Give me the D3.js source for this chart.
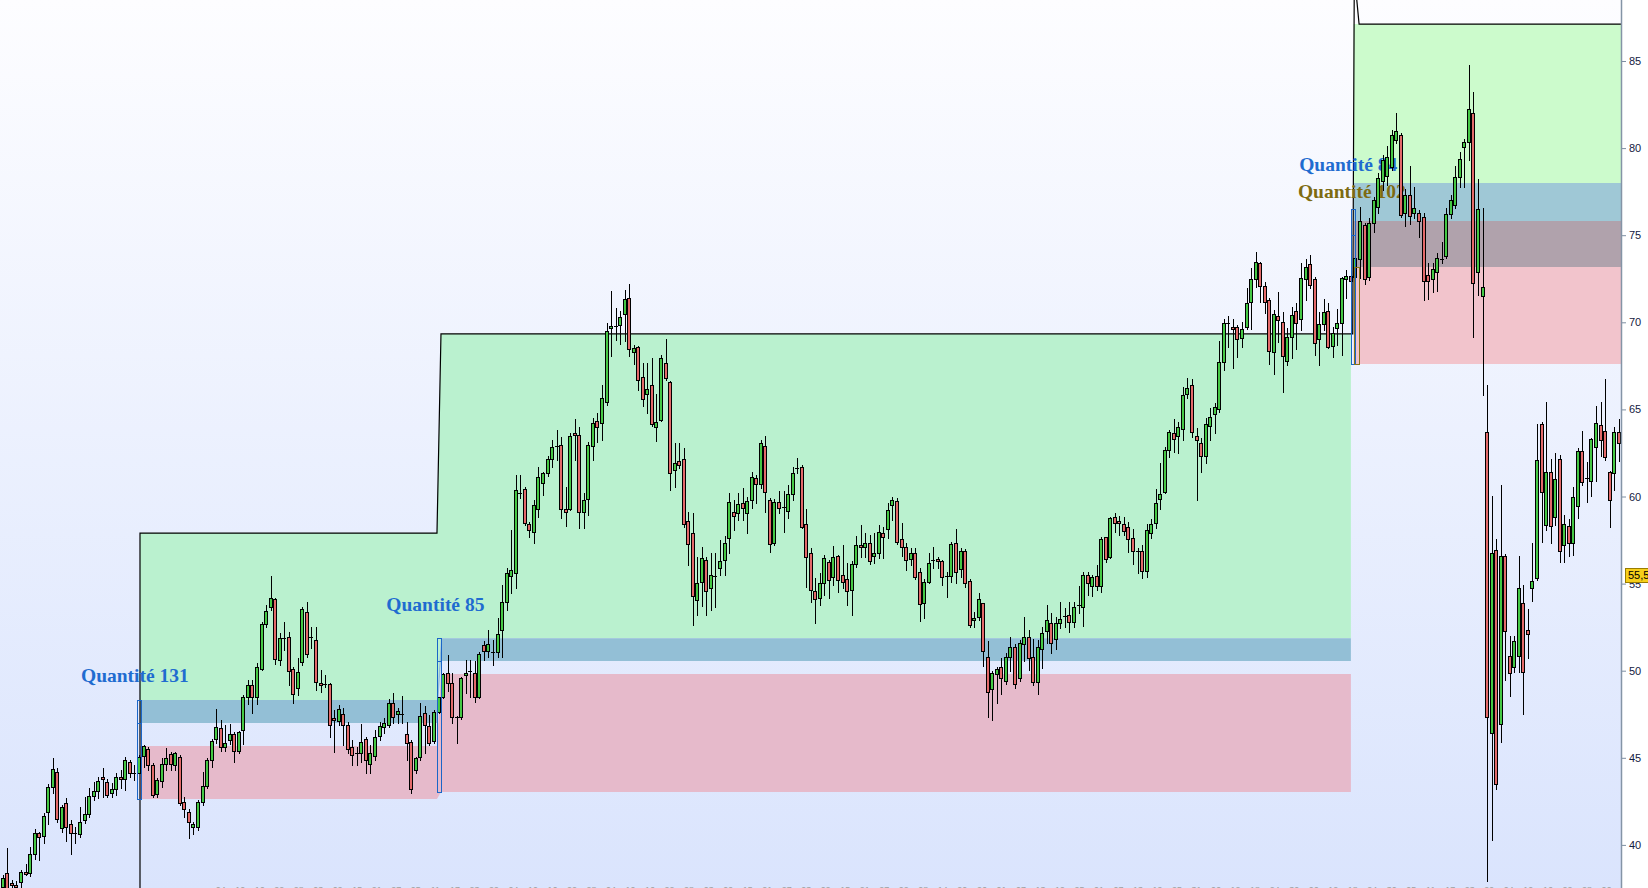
<!DOCTYPE html>
<html><head><meta charset="utf-8">
<script src="https://cdn.jsdelivr.net/npm/d3@7"></script>
<style>html,body{margin:0;padding:0;background:#fff;overflow:hidden}</style>
</head><body><svg id="chart" width="1648" height="888"></svg>
<script>
// ---------------- DATA ----------------
const opens = [
37.6,38.4,37.8,37.7,37.85,38.45,38.37,39.5,40.7,40.5,
41.9,43.3,44.16,40.95,42.4,41.18,40.68,40.6,41.43,41.8,
42.82,43.07,43.87,43.63,43.0,43.2,43.87,43.78,44.77,44.1,
44.1,45.1,45.5,44.56,42.9,43.65,44.64,45.2,44.58,45.06,
42.44,41.9,41.05,41.0,42.44,43.4,44.87,46.06,46.73,45.63,
46.0,46.34,45.4,46.6,48.47,49.2,48.47,50.07,52.66,53.63,
54.1,50.61,51.88,51.95,50.07,48.98,50.52,53.39,51.9,51.76,
49.3,49.24,49.22,47.27,47.13,47.51,46.88,45.6,45.25,45.25,
46.06,44.64,45.1,46.25,46.79,46.88,48.17,47.5,47.5,46.36,
45.89,44.3,45.07,47.55,46.82,45.98,47.65,48.47,49.85,49.31,
47.32,47.32,49.75,50.0,49.85,48.47,51.48,51.15,51.04,51.09,
52.34,53.96,55.44,55.6,60.18,60.41,58.4,57.98,59.26,60.79,
61.37,62.14,62.86,62.96,59.26,59.26,63.63,63.53,59.13,59.83,
62.9,64.35,64.2,65.4,69.7,69.75,69.84,70.47,71.37,68.31,
68.6,66.84,65.87,66.38,64.0,64.39,67.68,66.55,61.52,62.05,
62.13,58.61,57.88,54.06,55.11,56.35,54.73,55.4,55.87,56.35,
57.6,59.13,59.03,59.61,59.03,59.8,61.04,60.7,62.9,59.8,
57.31,59.7,59.38,59.17,60.14,61.62,61.71,58.4,56.73,54.59,
54.15,55.01,56.26,55.4,56.58,55.49,55.24,54.63,56.1,57.2,
57.08,57.31,56.58,56.77,57.88,58.11,59.51,59.74,57.54,57.08,
56.39,56.74,55.65,53.9,55.11,56.35,56.39,56.28,55.44,55.45,
57.35,55.82,56.89,55.15,52.91,53.06,53.87,50.77,48.93,49.79,
50.23,49.43,50.77,51.34,49.56,51.53,51.95,50.8,49.37,51.23,
52.3,52.72,51.8,52.72,53.14,53.2,52.81,53.73,53.63,55.47,
54.88,55.44,54.88,57.65,56.51,58.8,58.61,58.4,58.23,57.6,
56.83,56.9,55.7,57.9,58.46,59.84,60.28,62.67,63.63,63.47,
63.86,65.87,66.38,63.49,63.05,62.35,64.02,64.72,65.0,67.74,
69.94,69.75,69.71,69.08,69.75,71.19,72.47,73.39,72.08,71.28,
68.32,70.36,70.02,67.8,69.14,70.65,70.17,72.47,73.33,72.47,
69.02,69.88,70.67,68.66,69.66,69.98,72.47,72.68,72.62,73.61,
75.57,72.58,75.72,76.6,78.1,78.4,78.93,80.46,80.75,76.27,
77.33,76.27,76.27,76.06,72.69,72.48,72.87,73.6,73.78,76.21,
76.72,78.33,80.06,80.36,82.03,72.87,71.5,63.69,46.41,56.93,
46.92,56.57,50.87,50.2,50.87,53.9,52.32,54.75,55.35,64.14,
58.38,61.42,58.84,62.17,57.23,58.32,57.32,59.45,62.63,61.02,
60.9,62.87,64.08,63.75,61.42,61.36,63.69];
const highs = [
38.3,39.8,38.0,37.9,38.55,38.9,39.9,40.9,40.75,41.85,
43.5,45.0,44.4,42.3,42.7,41.43,41.0,42.2,42.77,43.24,
43.6,43.9,44.4,43.76,43.53,44.1,44.3,45.06,44.87,44.58,
45.16,45.73,45.6,44.68,43.82,44.96,45.58,45.35,45.35,45.16,
42.77,42.04,41.3,42.57,44.16,44.96,46.06,47.8,47.17,46.9,
46.92,46.5,46.56,48.6,49.46,49.46,50.42,52.81,53.77,55.43,
54.15,52.14,52.81,52.24,50.23,50.71,53.67,53.96,52.53,52.53,
50.04,49.75,49.28,47.74,48.03,47.84,47.07,46.02,45.64,46.92,
46.21,45.73,46.6,47.07,47.27,48.36,48.74,47.84,48.55,47.07,
46.02,45.06,48.17,47.97,47.46,47.74,48.47,49.85,50.9,49.85,
47.4,49.66,50.61,50.61,50.57,51.09,51.72,52.34,51.76,53.0,
54.9,55.88,58.08,61.23,61.23,60.56,58.55,59.8,61.71,61.42,
62.33,63.24,63.82,63.43,60.56,63.63,64.43,64.0,60.18,63.15,
64.48,64.77,66.4,69.98,71.81,70.8,70.67,71.85,72.2,68.7,
68.64,67.68,67.64,67.93,65.88,68.12,69.04,66.65,63.09,63.05,
62.76,59.13,59.03,56.54,57.12,56.54,56.73,56.73,57.5,57.73,
60.18,59.8,60.18,60.47,59.99,61.42,61.23,63.24,63.47,59.9,
59.83,60.33,60.33,60.66,61.71,62.19,61.81,59.26,57.02,55.3,
55.59,56.64,56.35,57.16,56.64,57.21,56.16,56.31,57.73,58.36,
57.88,57.79,57.88,58.36,58.23,59.64,59.99,59.9,58.46,57.35,
57.06,57.02,55.88,55.24,56.74,57.12,56.54,56.35,55.68,57.4,
58.11,57.02,56.97,55.24,53.39,54.44,53.9,51.72,50.0,50.23,
50.75,51.0,51.92,51.51,51.76,53.06,52.34,51.8,51.76,52.53,
53.77,53.33,53.1,53.96,53.58,53.96,53.96,54.86,55.68,55.68,
55.49,56.07,57.69,57.69,58.8,59.07,58.88,58.84,58.55,58.11,
57.02,57.2,58.4,58.7,60.41,61.91,62.86,63.82,64.43,64.3,
66.31,66.78,66.73,63.91,63.34,64.48,65.06,65.35,68.93,70.17,
70.36,70.17,69.85,70.04,71.95,73.1,74.06,73.48,72.33,71.38,
70.71,71.76,70.61,69.65,70.9,71.09,73.39,73.62,73.86,72.62,
70.61,71.32,71.09,69.71,70.75,72.62,73.0,73.0,73.8,76.64,
75.72,75.97,77.21,78.55,79.6,80.1,81.04,82.0,80.85,77.63,
79.0,77.78,76.42,76.27,73.39,73.39,73.99,74.6,76.57,77.33,
79.0,79.75,80.5,84.75,83.24,78.24,76.57,66.41,60.05,57.54,
60.66,56.72,52.02,52.02,56.56,54.9,53.53,57.32,64.14,64.29,
65.42,62.17,62.47,62.38,58.93,58.68,60.57,62.78,63.78,61.96,
63.38,65.2,65.42,66.72,61.48,63.99,64.45];
const lows = [
37.4,37.3,37.5,37.4,37.6,38.3,38.2,39.2,39.13,40.1,
41.2,43.0,41.3,40.76,40.2,39.5,40.1,40.47,41.24,41.6,
42.57,42.67,42.77,42.73,42.77,42.86,43.24,43.15,43.91,43.7,
44.1,44.5,44.3,42.77,42.77,43.34,44.3,44.3,44.3,42.3,
41.58,40.41,40.6,40.85,42.3,43.24,44.49,45.83,45.4,45.4,
45.8,44.78,45.25,45.8,48.1,47.55,48.1,50.04,52.52,53.48,
50.38,50.32,51.19,49.18,48.12,48.6,50.33,50.8,51.28,48.89,
48.8,49.08,46.21,45.35,46.88,45.73,45.25,44.59,44.59,44.78,
44.1,44.11,44.87,46.02,46.4,46.79,46.98,46.98,46.98,44.87,
43.0,44.1,44.9,45.26,45.73,45.87,47.55,48.41,48.85,47.02,
45.87,47.21,48.7,48.5,48.22,48.41,50.61,50.8,50.33,50.8,
50.8,53.48,54.44,54.72,59.9,58.37,57.7,57.35,58.84,60.1,
61.18,61.67,62.1,58.75,58.3,59.22,62.1,58.17,58.17,58.94,
62.1,63.15,63.24,65.25,68.06,68.98,68.75,68.9,68.06,67.6,
66.11,65.2,64.77,64.04,63.2,64.35,66.7,60.37,60.56,61.62,
58.27,56.07,52.62,53.2,53.71,53.2,53.48,53.67,55.49,55.49,
56.73,58.08,58.65,58.65,57.88,59.32,59.61,60.47,59.13,56.83,
57.21,59.03,57.98,58.74,59.8,61.33,58.17,54.82,53.96,52.72,
53.77,54.34,54.15,54.92,54.53,54.73,53.77,53.2,55.97,56.52,
56.55,56.12,56.2,56.45,56.45,57.6,58.65,57.25,56.58,55.78,
56.07,55.24,52.85,53.04,55.05,55.87,55.87,54.92,54.25,55.11,
55.05,55.4,54.82,52.49,52.53,52.91,50.27,47.32,47.17,48.12,
48.66,49.24,50.0,48.99,49.43,50.54,50.04,49.18,48.66,50.13,
51.6,51.0,51.23,52.43,52.53,52.24,52.53,53.33,52.57,54.34,
54.3,54.63,54.53,56.26,56.45,57.98,57.79,57.79,56.83,56.12,
55.63,55.3,55.4,57.6,58.17,59.26,60.18,62.25,62.58,62.52,
63.24,65.64,63.43,59.8,61.42,61.91,63.24,63.63,64.87,67.26,
68.6,67.36,68.03,68.56,69.6,69.6,72.05,71.19,70.55,67.61,
67.03,68.89,66.02,67.55,67.93,68.45,69.56,71.28,71.95,68.12,
67.55,69.56,68.55,68.03,68.7,68.12,71.38,72.14,72.43,72.52,
72.2,72.43,75.2,76.25,77.6,77.9,78.74,80.27,76.06,75.51,
75.66,75.96,74.9,71.3,71.35,71.72,71.78,73.39,73.69,75.96,
76.57,77.78,77.78,79.3,69.14,71.57,65.82,37.9,40.26,43.23,
45.89,49.44,48.53,49.9,49.9,47.53,50.75,53.99,55.2,57.41,
58.08,57.32,58.38,56.26,56.26,56.56,56.66,58.75,60.66,59.66,
60.05,60.87,62.32,62.11,58.23,60.35,62.02];
const closes = [
38.1,37.4,37.7,37.6,38.45,38.35,39.47,40.66,40.47,41.66,
43.3,44.33,41.46,42.2,41.0,40.66,40.7,41.33,41.8,42.8,
43.07,43.67,43.76,42.86,43.2,43.9,43.76,44.85,44.1,44.12,
45.02,45.7,44.6,42.86,43.72,44.62,44.97,44.64,45.25,42.38,
42.04,41.33,41.2,42.44,43.4,44.87,45.94,46.75,45.6,45.83,
46.34,45.4,46.46,48.47,49.2,48.5,50.19,52.66,53.42,54.2,
50.7,51.9,51.9,49.98,48.66,49.94,53.52,50.94,51.92,49.37,
49.18,49.26,46.88,47.17,47.78,46.88,45.48,45.16,45.2,45.92,
44.87,45.25,46.21,46.84,46.98,48.17,47.36,47.7,47.52,45.83,
43.2,44.97,47.4,46.88,45.87,47.65,48.47,49.81,49.31,47.36,
47.34,49.56,49.89,49.9,48.5,50.94,51.15,51.51,51.06,52.1,
53.96,55.63,55.78,60.37,60.2,58.5,58.08,59.51,61.1,61.33,
62.14,62.86,62.88,59.26,59.09,63.47,63.53,59.09,59.8,62.95,
64.2,63.97,65.63,69.5,69.78,69.77,70.28,71.32,68.45,68.5,
66.69,65.58,66.15,64.14,64.3,67.93,66.78,61.33,61.9,61.81,
58.4,57.25,54.29,55.01,56.45,54.59,55.49,55.42,56.29,57.35,
59.7,58.9,59.55,59.32,59.74,61.14,60.7,63.05,60.24,57.27,
59.7,59.32,59.4,60.14,61.33,61.64,58.23,56.51,54.63,54.1,
55.05,56.45,55.2,56.54,55.2,55.11,54.59,56.1,57.2,57.1,
57.31,56.31,56.74,57.94,57.69,59.22,59.8,57.4,57.08,56.35,
56.74,55.4,53.81,55.07,56.16,56.37,56.28,55.4,55.46,57.27,
55.68,56.89,55.05,52.62,53.0,54.1,51.13,48.8,49.85,50.1,
49.6,50.77,51.34,49.22,51.6,51.95,50.71,49.37,51.34,52.14,
52.91,51.57,52.72,52.95,53.16,52.81,53.63,53.75,55.49,55.01,
55.36,54.88,57.56,56.39,58.74,58.46,58.46,58.02,57.54,56.87,
56.85,55.7,58.1,58.42,59.61,60.13,62.67,63.69,63.28,63.97,
65.83,66.21,63.68,63.24,62.33,64.14,64.55,65.12,67.7,69.94,
69.96,69.6,69.02,69.6,71.09,72.47,73.44,72.1,71.19,68.37,
70.46,70.13,68.07,69.14,70.42,69.94,72.53,73.16,72.14,68.83,
69.88,70.57,68.6,69.41,69.94,72.53,72.68,72.37,73.67,75.81,
72.47,75.72,77.02,78.27,79.3,79.5,80.75,80.98,76.16,77.33,
76.12,76.57,75.81,72.39,72.39,73.08,73.69,73.62,76.21,77.02,
78.33,79.36,80.36,82.27,72.27,76.48,72.0,47.32,56.77,43.47,
56.57,52.26,49.84,51.71,54.75,49.9,52.08,55.14,62.1,60.26,
61.42,58.32,61.02,56.87,58.44,57.32,59.96,62.63,60.81,61.04,
63.29,64.2,63.23,62.26,59.8,63.69,63.08];

// position zones (candle-index space) and price levels
const zoneStart   = [30.22, 96.53, 297.6];
const zoneEnd     = [95.65, 297.0, 358];
const zoneCap     = [57.9, 69.33, 87.12];
const blueTop     = [48.32, 51.87, 78.0];
const blueBottom  = [47.0, 50.56, 73.18];
const pinkTop     = [45.68, 49.81, 75.82];
const pinkBottom  = [42.64, 43.04, 67.6];
const spikeIdx = 297.75, spikeLevel = 90.0;

// entry markers
const boxIdx    = [30.0, 96.2, 297.4, 298.2];
const boxTop    = [48.32, 51.87, 76.5, 73.18];
const boxBottom = [42.64, 43.04, 67.6, 67.6];
const boxMid    = [47.0, 50.56, 75.0, null];
const boxColor  = ["#1a66c8", "#1a66c8", "#1a66c8", "#8a7418"];

// text labels
const labelTexts = ["Quantité 131", "Quantité 85", "Quantité 84", "Quantité 102"];
const labelIdx   = [29.1, 95.3, 296.4, 297.2];
const labelPrice = [49.35, 53.43, 78.69, 77.14];
const labelColor = ["#1f6cd0", "#1f6cd0", "#1f6cd0", "#7d6b12"];

const yTicks = [40, 45, 50, 55, 60, 65, 70, 75, 80, 85];
const lastPriceLabel = "55,5";
const lastPriceValue = 55.5;

// ---------------- CHART ----------------
const W = 1648, H = 888, axisX = 1621;
const N = opens.length;
const svg = d3.select("#chart");
const xS = d3.scaleLinear().domain([0, N - 1]).range([2.83, 1618.7]);
const yS = d3.scaleLinear().domain([40, 85]).range([844.9, 61]);

const defs = svg.append("defs");
const grad = defs.append("linearGradient").attr("id", "bg").attr("x1", 0).attr("y1", 0).attr("x2", 0).attr("y2", 1);
grad.append("stop").attr("offset", "0%").attr("stop-color", "#fdfdff");
grad.append("stop").attr("offset", "100%").attr("stop-color", "#dae4fd");
defs.append("clipPath").attr("id", "plot").append("rect").attr("x", 0).attr("y", 0).attr("width", axisX).attr("height", H);

svg.append("rect").attr("width", W).attr("height", H).attr("fill", "#ffffff");
svg.append("rect").attr("width", axisX).attr("height", H).attr("fill", "url(#bg)");

const plot = svg.append("g").attr("clip-path", "url(#plot)");

const area = d3.area().x(d => xS(d.i)).y0(d => yS(d.lo)).y1(d => yS(d.hi));
function band(sets, hiArr, loArr) {
  const pts = [];
  sets.forEach(s => {
    pts.push({ i: zoneStart[s], hi: hiArr[s], lo: loArr[s] });
    pts.push({ i: zoneEnd[s], hi: hiArr[s], lo: loArr[s] });
  });
  return pts;
}
// sets 1 & 2
plot.append("path").attr("d", area(band([0, 1], zoneCap, blueTop))).attr("fill", "#baf1cf");
plot.append("path").attr("d", area(band([0, 1], blueTop, blueBottom))).attr("fill", "#93bfd6");
plot.append("path").attr("d", area(band([0, 1], pinkTop, pinkBottom))).attr("fill", "#e6bacb");
// set 3
plot.append("path").attr("d", area(band([2], zoneCap, blueTop))).attr("fill", "#ccfbcc");
plot.append("path").attr("d", area(band([2], blueTop, pinkTop))).attr("fill", "#9fc8d6");
plot.append("path").attr("d", area(band([2], pinkTop, blueBottom))).attr("fill", "#b0a2ac");
plot.append("path").attr("d", area(band([2], blueBottom, pinkBottom))).attr("fill", "#f2c4cc");

// stop line
const linePts = [
  { i: zoneStart[0], v: 30 },
  { i: zoneStart[0], v: zoneCap[0] },
  { i: zoneEnd[0], v: zoneCap[0] },
  { i: zoneStart[1], v: zoneCap[1] },
  { i: zoneEnd[1] + 0.4, v: zoneCap[1] },
  { i: spikeIdx, v: spikeLevel },
  { i: spikeIdx + 1.05, v: zoneCap[2] },
  { i: zoneEnd[2], v: zoneCap[2] }
];
plot.append("path")
  .attr("d", d3.line().x(d => xS(d.i)).y(d => yS(d.v))(linePts))
  .attr("fill", "none").attr("stroke", "#000").attr("stroke-width", 1.2);

// labels (under candles)
plot.selectAll("text.q").data(labelTexts).join("text")
  .attr("class", "q")
  .attr("x", (d, k) => xS(labelIdx[k]))
  .attr("y", (d, k) => yS(labelPrice[k]))
  .attr("text-anchor", "middle")
  .attr("font-family", "'Liberation Serif','Times New Roman',serif")
  .attr("font-weight", "bold").attr("font-size", 19.5)
  .attr("fill", (d, k) => labelColor[k])
  .text(d => d);

// candles
const cg = plot.append("g");
d3.range(N).forEach(i => {
  const o = opens[i], c = closes[i], h = highs[i], l = lows[i];
  const cx = Math.round(xS(i));
  cg.append("line").attr("x1", cx + 0.5).attr("x2", cx + 0.5)
    .attr("y1", Math.round(yS(h))).attr("y2", Math.round(yS(l)) + 1)
    .attr("stroke", "#000").attr("stroke-width", 1);
  const top = Math.round(yS(Math.max(o, c)));
  const bot = Math.round(yS(Math.min(o, c)));
  if (bot - top < 2) {
    cg.append("line").attr("x1", cx - 2).attr("x2", cx + 2)
      .attr("y1", top + 0.5).attr("y2", top + 0.5)
      .attr("stroke", "#000").attr("stroke-width", 1);
  } else {
    cg.append("rect").attr("x", cx - 1.5).attr("y", top + 0.5)
      .attr("width", 3).attr("height", bot - top)
      .attr("fill", c >= o ? "#45c845" : "#e36a6a")
      .attr("stroke", "#000").attr("stroke-width", 1);
  }
});

// entry boxes
boxIdx.forEach((bi, k) => {
  const cx = xS(bi);
  const x0 = Math.round(cx - 2) + 0.5;
  plot.append("rect").attr("x", x0).attr("y", Math.round(yS(boxTop[k])) + 0.5)
    .attr("width", k === 3 ? 5 : 4)
    .attr("height", Math.round(yS(boxBottom[k])) - Math.round(yS(boxTop[k])))
    .attr("fill", "none").attr("stroke", boxColor[k]).attr("stroke-width", 1);
  if (boxMid[k] !== null) {
    plot.append("line").attr("x1", x0).attr("x2", x0 + 4)
      .attr("y1", Math.round(yS(boxMid[k])) + 0.5).attr("y2", Math.round(yS(boxMid[k])) + 0.5)
      .attr("stroke", boxColor[k]).attr("stroke-width", 1);
  }
});

// bottom date labels (only their tops show at the window edge)
const fmt = d3.timeFormat("%d");
const xTickIdx = d3.range(48, N, 4.3);
const start = new Date(2021, 0, 4);
plot.selectAll("text.xt").data(xTickIdx).join("text")
  .attr("class", "xt")
  .attr("x", d => xS(d)).attr("y", 893)
  .attr("text-anchor", "middle")
  .attr("font-family", "'Liberation Sans',Arial,sans-serif")
  .attr("font-size", 9).attr("fill", "#a0a0a0")
  .text((d, k) => fmt(d3.timeDay.offset(start, k * 6)));

// right axis
const ax = svg.append("g").attr("transform", `translate(${axisX},0)`)
  .call(d3.axisRight(yS).tickValues(yTicks).tickSize(5).tickSizeOuter(0).tickPadding(3).tickFormat(d3.format("d")));
ax.select(".domain").remove();
ax.selectAll(".tick line").attr("stroke", "#7d8ea2").attr("x1", 0.5);
ax.selectAll(".tick text").attr("fill", "#14203e")
  .attr("font-family", "'Liberation Sans',Arial,sans-serif").attr("font-size", 11);
svg.append("line").attr("x1", axisX + 0.5).attr("x2", axisX + 0.5).attr("y1", 0).attr("y2", H)
  .attr("stroke", "#8494a6").attr("stroke-width", 1.5);

// last price marker
const ly = yS(lastPriceValue);
svg.append("rect").attr("x", 1625.5).attr("y", Math.round(ly - 7) + 0.5).attr("width", 26).attr("height", 14)
  .attr("fill", "#f7cf1a").attr("stroke", "#9a7d00").attr("stroke-width", 1);
svg.append("text").attr("x", 1628).attr("y", ly + 4)
  .attr("font-family", "'Liberation Sans',Arial,sans-serif").attr("font-size", 11)
  .attr("fill", "#000").text(lastPriceLabel);
</script>
</body></html>
